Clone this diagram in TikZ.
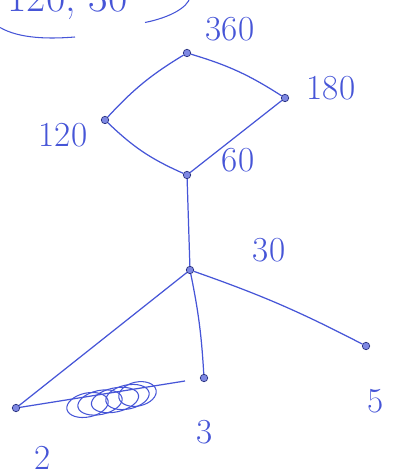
\documentclass[tikz,border=0pt]{standalone}
\usepackage{tikz}
\usetikzlibrary{positioning,calc}
\definecolor{ink}{RGB}{70,85,215}

\begin{document}
\begin{tikzpicture}[
    vertex/.style={circle, draw=ink!60!black, fill=ink!70, inner sep=1.5pt},
    lbl/.style={text=ink, font=\fontsize{20}{24}\selectfont, inner sep=0pt},
    edge/.style={draw=ink, line width=0.7pt},
    scribble/.style={draw=ink, line width=0.6pt}
]
\useasboundingbox (0,0) rectangle (7.98,9.5);

% Vertices
\node[vertex] (n360) at (3.74,8.44) {};
\node[vertex] (n180) at (5.70,7.54) {};
\node[vertex] (n120) at (2.10,7.10) {};
\node[vertex] (n60) at (3.74,6.00) {};
\node[vertex] (n30) at (3.80,4.10) {};
\node[vertex] (n5) at (7.32,2.58) {};
\node[vertex] (n3) at (4.08,1.94) {};
\node[vertex] (n2) at (0.32,1.34) {};
\coordinate (cut) at (3.70,1.88);

% Labels
\node[lbl] (l360) at (4.60,8.92) {360};
\node[lbl] (l180) at (6.62,7.74) {180};
\node[lbl] (l120) at (1.26,6.80) {120};
\node[lbl] (l60) at (4.76,6.30) {60};
\node[lbl] (l30) at (5.38,4.50) {30};
\node[lbl] (l5) at (7.52,1.48) {5};
\node[lbl] (l3) at (4.10,0.86) {3};
\node[lbl] (l2) at (0.86,0.34) {2};

% Note at the top edge (cut off)
\node[lbl, font=\fontsize{24}{28}\selectfont] (note) at (1.35,9.46) {120, 30};
\draw[scribble] (0.0,8.95) .. controls (0.4,8.72) and (1.0,8.72) .. (1.5,8.76);
\draw[scribble] (2.90,9.05) .. controls (3.40,9.15) and (3.75,9.35) .. (3.80,9.55);

% Edges
\draw[edge] (n360) to[bend right=8] (n120);
\draw[edge] (n360) to[bend left=8] (n180);
\draw[edge] (n120) to[bend right=10] (n60);
\draw[edge] (n180) -- (n60);
\draw[edge] (n60) -- (n30);
\draw[edge] (n30) -- (n2);
\draw[edge] (n30) to[bend left=4] (n3);
\draw[edge] (n30) to[bend left=4] (n5);
\draw[edge] (n2) -- (cut);

% Crossed-out part
\foreach \cx/\cy/\rx in {1.75/1.40/0.42, 2.00/1.45/0.45, 2.30/1.50/0.48, 2.55/1.56/0.44, 2.75/1.62/0.38} {
  \draw[scribble, rotate around={12:(\cx,\cy)}] (\cx,\cy) ellipse ({\rx} and 0.24);
}
\end{tikzpicture}
\end{document}
